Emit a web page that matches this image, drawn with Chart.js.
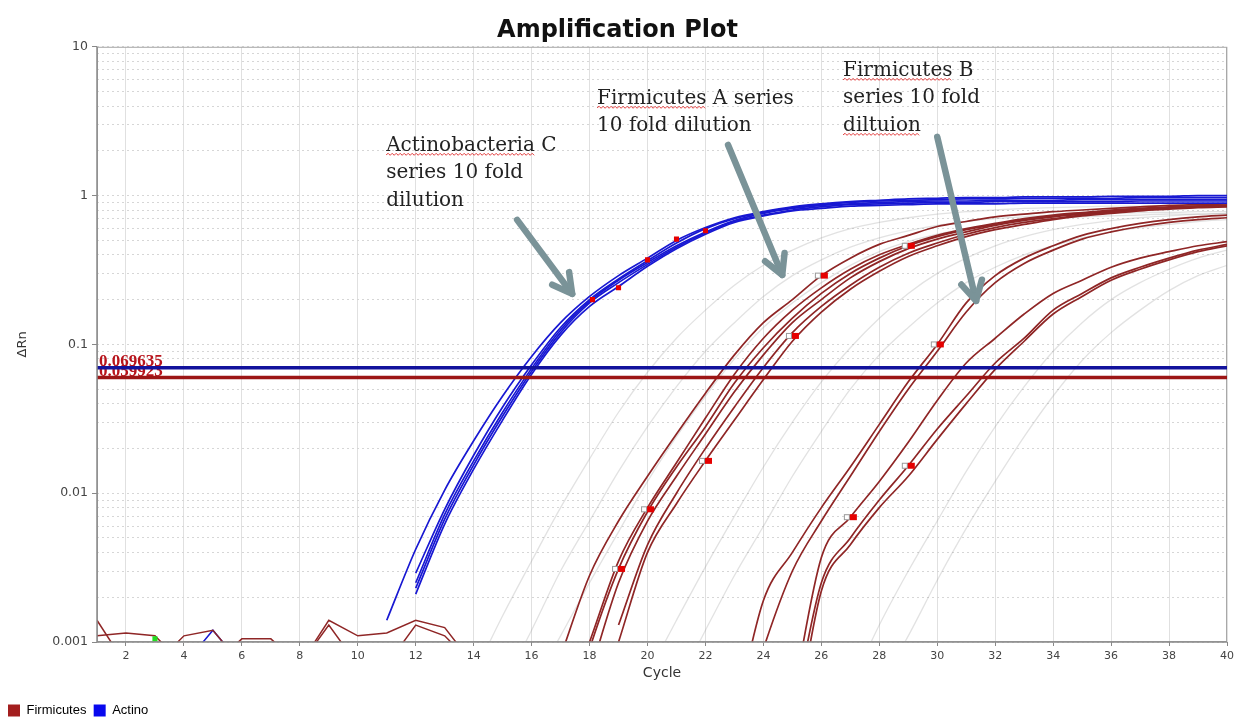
<!DOCTYPE html>
<html>
<head>
<meta charset="utf-8">
<script src="https://cdn.jsdelivr.net/npm/chart.js@4.4.0/dist/chart.umd.min.js"></script>
<style>
html,body{margin:0;padding:0;background:#fff;}
#wrap{width:1247px;height:719px;position:relative;}
</style>
</head>
<body>
<div id="wrap"><canvas id="c"></canvas></div>
<script>
// ---------- axis ticks ----------
const cycleTicks = [2,4,6,8,10,12,14,16,18,20,22,24,26,28,30,32,34,36,38,40];
const yDecades = [0.001, 0.01, 0.1, 1, 10];
const yMinorSteps = [2,3,4,5,6,7,8,9];

// ---------- thresholds ----------
const thresholdActino = 0.069635;
const thresholdFirmicutes = 0.059923;

// ---------- Actino (blue) curves: first cycle + values ----------
const actinoStart = [11, 12, 12, 12, 12];
const actino1 = [0.0014,0.0042,0.0105,0.0225,0.045,0.083,0.14,0.21,0.29,0.38,0.5,0.61,0.71,0.78,0.84,0.88,0.91,0.93,0.95,0.96,0.97,0.97,0.98,0.98,0.98,0.99,0.99,0.99,1.0,1.0];
const actino2 = [0.0029,0.0078,0.018,0.038,0.073,0.13,0.2,0.275,0.365,0.48,0.6,0.7,0.77,0.83,0.87,0.9,0.92,0.93,0.94,0.95,0.95,0.96,0.96,0.96,0.96,0.97,0.97,0.97,0.97];
const actino3 = [0.0025,0.0072,0.0165,0.035,0.069,0.125,0.195,0.27,0.355,0.46,0.57,0.68,0.76,0.82,0.86,0.88,0.9,0.91,0.92,0.92,0.93,0.93,0.93,0.94,0.94,0.94,0.94,0.94,0.94];
const actino4 = [0.0023,0.0067,0.0155,0.033,0.066,0.12,0.19,0.26,0.345,0.45,0.56,0.67,0.74,0.8,0.84,0.87,0.88,0.89,0.9,0.9,0.91,0.91,0.91,0.91,0.91,0.92,0.92,0.92,0.92];
const actino5 = [0.0021,0.0062,0.0145,0.031,0.063,0.115,0.18,0.245,0.335,0.44,0.55,0.66,0.73,0.79,0.82,0.85,0.86,0.87,0.88,0.88,0.88,0.89,0.89,0.89,0.89,0.89,0.89,0.89,0.89];

// ---------- Firmicutes A (red) ----------
const firmAStart = [17, 17, 17, 18, 19, 19];
const firmA1 = [0.0008,0.0028,0.0065,0.013,0.025,0.047,0.085,0.14,0.2,0.29,0.38,0.47,0.54,0.62,0.67,0.72,0.75,0.78,0.8,0.82,0.84,0.86,0.87,0.88];
const firmA2 = [0.0003,0.001,0.0035,0.008,0.016,0.032,0.063,0.11,0.17,0.24,0.32,0.4,0.47,0.54,0.6,0.65,0.7,0.74,0.77,0.8,0.82,0.84,0.85,0.86];
const firmA3 = [0.0002,0.0009,0.0031,0.0075,0.015,0.028,0.055,0.095,0.15,0.22,0.3,0.38,0.46,0.53,0.59,0.64,0.69,0.73,0.76,0.79,0.81,0.83,0.85,0.86];
const firmA4 = [0.0006,0.0025,0.0065,0.013,0.025,0.048,0.085,0.14,0.2,0.28,0.36,0.44,0.51,0.57,0.63,0.68,0.72,0.75,0.78,0.81,0.83,0.84,0.85];
const firmA5 = [0.0013,0.0045,0.01,0.02,0.038,0.07,0.12,0.18,0.25,0.33,0.41,0.48,0.55,0.61,0.66,0.7,0.74,0.77,0.8,0.82,0.84,0.85];
const firmA6 = [0.001,0.004,0.0085,0.0165,0.031,0.058,0.105,0.165,0.235,0.31,0.39,0.46,0.53,0.59,0.64,0.69,0.73,0.76,0.79,0.81,0.83,0.84];

// ---------- Firmicutes B (red) ----------
const firmBStart = [23, 23, 25, 25, 25];
const firmB1 = [0.0003,0.0019,0.004,0.008,0.015,0.029,0.056,0.1,0.19,0.29,0.38,0.46,0.54,0.6,0.65,0.69,0.72,0.74];
const firmB2 = [0.0002,0.0009,0.003,0.0065,0.013,0.026,0.05,0.09,0.165,0.26,0.35,0.43,0.51,0.57,0.62,0.66,0.69,0.71];
const firmB3 = [0.0004,0.0037,0.0069,0.012,0.022,0.042,0.075,0.11,0.16,0.22,0.27,0.33,0.38,0.42,0.46,0.49];
const firmB4 = [0.0003,0.0025,0.005,0.009,0.0153,0.027,0.045,0.075,0.11,0.17,0.22,0.28,0.33,0.38,0.43,0.47];
const firmB5 = [0.0002,0.0022,0.0045,0.008,0.013,0.023,0.04,0.068,0.105,0.16,0.21,0.27,0.32,0.37,0.42,0.46];

// ---------- baseline noise (cycles 1-14) ----------
const noiseRed1 = [0.0014,0.0007,0.0007,0.0011,0.0012,0.0007,0.0007,0.0007,0.0014,0.0011,0.00115,0.0014,0.00125,0.0007];
const noiseRed2 = [0.0011,0.00115,0.0011,0.0007,0.0007,0.00105,0.00105,0.0007,0.0013,0.0007,0.0007,0.0013,0.0011,0.0007];
const noiseBlue = [0.0007,0.0007,0.0007,0.0007,0.0012,0.0007,0.0007];

// ---------- faint background wells ----------
const greyStart = [14, 15, 16, 20, 21, 27, 28];
const grey1 = [0.0006,0.0015,0.0035,0.008,0.017,0.035,0.065,0.11,0.17,0.25,0.34,0.43,0.52,0.6,0.66,0.71,0.75,0.78,0.8,0.82,0.83,0.84,0.85,0.85,0.86,0.86,0.86];
const grey2 = [0.0005,0.0012,0.003,0.0065,0.014,0.028,0.052,0.09,0.14,0.21,0.29,0.37,0.45,0.52,0.58,0.63,0.67,0.7,0.72,0.74,0.75,0.76,0.77,0.77,0.78,0.78];
const grey3 = [0.0005,0.0011,0.0025,0.0055,0.012,0.024,0.045,0.08,0.13,0.19,0.26,0.34,0.42,0.49,0.55,0.6,0.64,0.67,0.7,0.72,0.73,0.74,0.75,0.75,0.76];
const grey4 = [0.0006,0.0014,0.0032,0.007,0.015,0.03,0.056,0.095,0.15,0.22,0.3,0.38,0.46,0.53,0.59,0.64,0.68,0.71,0.73,0.75,0.76];
const grey5 = [0.0005,0.0012,0.0028,0.006,0.013,0.026,0.05,0.085,0.13,0.19,0.26,0.33,0.4,0.46,0.52,0.57,0.61,0.64,0.67,0.69];
const grey6 = [0.0005,0.0013,0.003,0.0065,0.014,0.028,0.052,0.09,0.14,0.2,0.26,0.32,0.38,0.43];
const grey7 = [0.0005,0.0011,0.0026,0.0058,0.012,0.024,0.045,0.078,0.12,0.17,0.23,0.29,0.34];

// ---------- marker points ----------
const markerActinoX = [18.1, 19, 20, 21, 22];
const markerActinoY = [0.2, 0.24, 0.37, 0.51, 0.58];
const markerFirmX = [19, 20, 22, 25, 26, 29, 27, 29, 30];
const markerFirmY = [0.0031, 0.0078, 0.0165, 0.114, 0.29, 0.46, 0.0069, 0.0153, 0.1];
const markerGreenX = [3];
const markerGreenY = [0.00105];

// ---------- annotations ----------
const noteLines = [
  ['Actinobacteria C', 'series 10 fold', 'dilution'],
  ['Firmicutes A series', '10 fold dilution'],
  ['Firmicutes B', 'series 10 fold', 'diltuion']
];
const noteAnchorX = [10.98, 18.26, 26.75];
const noteAnchorY = [2.0, 4.14, 6.38];
const noteSquiggle = [[0, 'Actinobacteria'], [0, 'Firmicutes'], [0, 'Firmicutes', 2, 'diltuion']];
const arrowFromX = [15.5, 22.78, 30.0];
const arrowFromY = [0.687, 2.19, 2.48];
const arrowToX = [17.4, 24.65, 31.34];
const arrowToY = [0.2185, 0.293, 0.196];

const legendNames = ['Firmicutes', 'Actino'];
const legendColors = ['#a31e1e', '#0808ee'];

// ---------- helpers ----------
function series(start, vals){ return vals.map((v,i)=>({x:start+i, y:v})); }
function pts(xs, ys){ return xs.map((x,i)=>({x:x, y:ys[i]})); }

const RED = '#8f2626', BLUE = '#1818d2', GREY = 'rgba(150,150,150,0.28)';
function curve(data, color, width, order){
  return {data, borderColor:color, backgroundColor:color, borderWidth:width, pointRadius:0,
    cubicInterpolationMode:'monotone', fill:false, order};
}

const datasets = [];
[grey1,grey2,grey3,grey4,grey5,grey6,grey7].forEach((g,i)=>datasets.push(curve(series(greyStart[i], g), GREY, 1.3, 9)));
datasets.push(Object.assign(curve(series(1, noiseRed1), RED, 1.5, 8), {cubicInterpolationMode:'default', tension:0}));
datasets.push(Object.assign(curve(series(1, noiseRed2), RED, 1.5, 8), {cubicInterpolationMode:'default', tension:0}));
datasets.push(Object.assign(curve(series(1, noiseBlue), BLUE, 1.5, 8), {cubicInterpolationMode:'default', tension:0}));
[firmA1,firmA2,firmA3,firmA4,firmA5,firmA6].forEach((f,i)=>datasets.push(curve(series(firmAStart[i], f), RED, 1.7, 6)));
[firmB1,firmB2,firmB3,firmB4,firmB5].forEach((f,i)=>datasets.push(curve(series(firmBStart[i], f), RED, 1.7, 6)));
[actino1,actino2,actino3,actino4,actino5].forEach((a,i)=>datasets.push(curve(series(actinoStart[i], a), BLUE, 1.7, 5)));
datasets.push({data:[{x:1,y:thresholdFirmicutes},{x:40,y:thresholdFirmicutes}], borderColor:'#9c1515', borderWidth:3.5, pointRadius:0, order:2});
datasets.push({data:[{x:1,y:thresholdActino},{x:40,y:thresholdActino}], borderColor:'#12129c', borderWidth:3.5, pointRadius:0, order:1});

// marker image: open grey square + red filled square
const mk = document.createElement('canvas'); mk.width = 15; mk.height = 8;
(function(){ const c = mk.getContext('2d'); c.fillStyle='#fff'; c.fillRect(1,1,6,6);
  c.strokeStyle='#999'; c.lineWidth=1; c.strokeRect(1.5,1.5,5,5);
  c.fillStyle='#e60000'; c.fillRect(7,1,7,6); })();

datasets.push({type:'scatter', data:pts(markerFirmX, markerFirmY), pointStyle:mk, pointRadius:5, showLine:false, order:0});
datasets.push({type:'scatter', data:pts(markerActinoX, markerActinoY), pointStyle:'rect', pointRadius:3.6, backgroundColor:'#e60000', borderColor:'#e60000', borderWidth:0, showLine:false, order:0});
datasets.push({type:'scatter', data:pts(markerGreenX, markerGreenY), pointStyle:'rect', pointRadius:3.6, backgroundColor:'#22dd22', borderColor:'#22dd22', borderWidth:0, showLine:false, order:0});

// ---------- drawing plugin ----------
function squiggle(ctx, x0, x1, y){
  ctx.save(); ctx.strokeStyle='#e23a3a'; ctx.lineWidth=1; ctx.beginPath();
  let up = true; ctx.moveTo(x0, y);
  for (let x = x0 + 2; x <= x1; x += 2){ ctx.lineTo(x, up ? y - 1.5 : y + 0.5); up = !up; }
  ctx.stroke(); ctx.restore();
}
function arrow(ctx, x0, y0, x1, y1){
  ctx.save(); ctx.strokeStyle='#7a9398'; ctx.lineWidth=6.5; ctx.lineCap='round'; ctx.lineJoin='round';
  ctx.beginPath(); ctx.moveTo(x0,y0); ctx.lineTo(x1,y1); ctx.stroke();
  const ang = Math.atan2(y1-y0, x1-x0), L = 22, a = 0.5;
  ctx.beginPath();
  ctx.moveTo(x1 - L*Math.cos(ang-a), y1 - L*Math.sin(ang-a));
  ctx.lineTo(x1, y1);
  ctx.lineTo(x1 - L*Math.cos(ang+a), y1 - L*Math.sin(ang+a));
  ctx.stroke(); ctx.restore();
}
const overlay = {
  id:'overlay',
  beforeDatasetsDraw(chart){
    const {ctx, chartArea:a, scales:{y}} = chart;
    ctx.save();
    ctx.strokeStyle = '#a8a8a8'; ctx.lineWidth = 1;
    ctx.strokeRect(a.left + 0.5, a.top + 0.5, a.right - a.left - 1, a.bottom - a.top - 1);
    ctx.font = 'bold 17px "Liberation Serif"'; ctx.fillStyle = '#b8141c'; ctx.textBaseline = 'alphabetic';
    ctx.fillText(thresholdActino.toFixed(6), a.left + 2, y.getPixelForValue(thresholdActino) - 2);
    ctx.fillText(thresholdFirmicutes.toFixed(6), a.left + 2, y.getPixelForValue(thresholdFirmicutes) - 1);
    ctx.restore();
  },
  afterDatasetsDraw(chart){
    const {ctx, scales:{x, y}, chartArea:a} = chart;
    ctx.save();
    ctx.strokeStyle = '#8a8a8a'; ctx.lineWidth = 1.5;
    ctx.beginPath(); ctx.moveTo(a.left, a.top); ctx.lineTo(a.left, a.bottom); ctx.lineTo(a.right, a.bottom); ctx.stroke();
    for (let i = 0; i < arrowFromX.length; i++){
      arrow(ctx, x.getPixelForValue(arrowFromX[i]), y.getPixelForValue(arrowFromY[i]),
                 x.getPixelForValue(arrowToX[i]), y.getPixelForValue(arrowToY[i]));
    }
    ctx.font = '20px "DejaVu Serif"'; ctx.fillStyle = '#222'; ctx.textBaseline = 'alphabetic';
    noteLines.forEach((lines, n)=>{
      const lx = x.getPixelForValue(noteAnchorX[n]), ly = y.getPixelForValue(noteAnchorY[n]);
      lines.forEach((t, k)=> ctx.fillText(t, lx, ly + k*27.5));
      const sq = noteSquiggle[n];
      for (let j = 0; j < sq.length; j += 2){
        const w = ctx.measureText(sq[j+1]).width;
        squiggle(ctx, lx, lx + w, ly + sq[j]*27.5 + 4);
      }
    });
    ctx.restore();
  }
};

new Chart(document.getElementById('c'), {
  type:'line',
  data:{datasets},
  options:{
    responsive:true, maintainAspectRatio:false, animation:false, devicePixelRatio:1,
    layout:{padding:{left:8, right:20, top:0, bottom:-8}},
    plugins:{
      title:{display:true, text:'Amplification Plot', color:'#111',
        font:{family:'DejaVu Sans', weight:'bold', size:24}, padding:{top:16, bottom:2}},
      legend:{display:true, position:'bottom', align:'start',
        labels:{boxWidth:12, boxHeight:12, padding:0, color:'#333', font:{family:'Liberation Sans', size:13},
          generateLabels:()=>legendNames.map((n,i)=>({text:n + '  ', fillStyle:legendColors[i], strokeStyle:legendColors[i], lineWidth:0, hidden:false, datasetIndex:i}))},
        onClick:()=>{}},
      tooltip:{enabled:false}
    },
    scales:{
      x:{type:'linear', min:1, max:40,
        afterBuildTicks:(s)=>{ s.ticks = cycleTicks.map(v=>({value:v})); },
        afterFit:(s)=>{ s.height = 62; },
        ticks:{color:'#444', font:{family:'DejaVu Sans', size:11}, padding:4, maxRotation:0, autoSkip:false},
        grid:{color:'#e0e0e0', lineWidth:1, tickLength:4, tickColor:'#888'},
        border:{display:false},
        title:{display:true, text:'Cycle', color:'#333', font:{family:'DejaVu Sans', size:14}, padding:{top:2, bottom:22}}
      },
      y:{type:'logarithmic', min:0.001, max:10,
        afterBuildTicks:(s)=>{
          const t = [];
          yDecades.forEach(d=>{ t.push({value:d, major:true}); if (d < 10) yMinorSteps.forEach(m=>t.push({value:+(d*m).toPrecision(3), major:false})); });
          s.ticks = t;
        },
        afterFit:(s)=>{ s.width = 89; },
        ticks:{color:'#444', font:{family:'DejaVu Sans', size:12.5}, padding:4, autoSkip:false,
          callback:(v)=> yDecades.includes(v) ? String(v) : ''},
        grid:{color:'#d6d6d6', lineWidth:1, tickLength:5,
          tickColor:(c)=> (c.tick && c.tick.major) ? '#888' : 'rgba(0,0,0,0)'},
        border:{display:false, dash:[2,3]},
        title:{display:true, text:'ΔRn', color:'#333', font:{family:'DejaVu Sans', size:13}, padding:{top:7, bottom:4}}
      }
    }
  },
  plugins:[overlay]
});
</script>
</body>
</html>
